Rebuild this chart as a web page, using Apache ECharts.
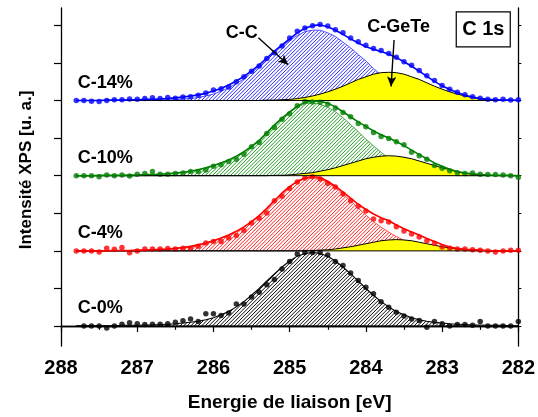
<!DOCTYPE html>
<html>
<head><meta charset="utf-8"></head>
<script type="text/javascript" src="https://cdn.jsdelivr.net/npm/echarts@6/dist/echarts.min.js"></script>
<body style="margin:0;background:#fff">
    <div id="main" style="width:538px;height:417px"></div>
</body>
<script type="text/javascript">
// energie de liaison (eV), pas de 0.1
var energie = [287.8,287.7,287.6,287.5,287.4,287.3,287.2,287.1,287.0,286.9,
    286.8,286.7,286.6,286.5,286.4,286.3,286.2,286.1,286.0,285.9,
    285.8,285.7,285.6,285.5,285.4,285.3,285.2,285.1,285.0,284.9,
    284.8,284.7,284.6,284.5,284.4,284.3,284.2,284.1,284.0,283.9,
    283.8,283.7,283.6,283.5,283.4,283.3,283.2,283.1,283.0,282.9,
    282.8,282.7,282.6,282.5,282.4,282.3,282.2,282.1,282.0]

// C-14%
var points14 = [0,0,-0.02,-0.03,0,0.02,0.02,0.04,0.03,0.05,
    0.07,0.05,0.08,0.06,0.09,0.10,0.14,0.20,0.28,0.31,
    0.36,0.50,0.63,0.78,0.92,1.12,1.27,1.45,1.66,1.84,
    1.93,1.99,2.02,1.98,1.88,1.80,1.66,1.56,1.47,1.38,
    1.33,1.25,1.15,1.03,0.94,0.80,0.66,0.53,0.40,0.30,
    0.22,0.15,0.10,0.06,0.03,0.02,0.03,0.01,0.02]
var fit14 = [0,0,0,0,0.01,0.01,0.01,0.02,0.02,0.03,
    0.03,0.04,0.05,0.07,0.09,0.12,0.15,0.19,0.25,0.32,
    0.41,0.52,0.64,0.79,0.95,1.13,1.31,1.48,1.64,1.80,
    1.92,1.99,2.01,1.96,1.87,1.76,1.64,1.53,1.43,1.36,
    1.30,1.23,1.14,1.03,0.91,0.78,0.64,0.51,0.39,0.29,
    0.21,0.14,0.09,0.05,0.03,0.02,0.01,0.01,0]
var cc14 = [0,0,0,0,0,0,0,0,0,0,
    0,0.01,0.01,0.02,0.04,0.05,0.08,0.12,0.17,0.25,
    0.34,0.45,0.58,0.74,0.90,1.08,1.27,1.45,1.60,1.73,
    1.83,1.87,1.87,1.80,1.70,1.55,1.40,1.22,1.05,0.85,
    0.68,0.52,0.38,0.27,0.18,0.11,0.07,0.04,0.02,0.01,
    0,0,0,0,0,0,0,0,0]
var ge14 = [0,0,0,0,0,0,0,0,0,0,
    0,0,0,0,0,0,0,0,0,0,
    0,0,0,0,0,0.01,0.01,0.02,0.03,0.05,
    0.08,0.12,0.17,0.23,0.30,0.38,0.47,0.56,0.63,0.70,
    0.74,0.75,0.74,0.70,0.63,0.56,0.47,0.38,0.30,0.23,
    0.17,0.12,0.08,0.05,0.03,0.02,0.01,0.01,0]

// C-10%
var points10 = [0,0,0,-0.03,0.02,0,0.02,-0.01,0.04,0.06,
    0.11,0.04,0.04,0.06,0.07,0.11,0.11,0.15,0.25,0.29,
    0.38,0.44,0.57,0.77,0.88,1.12,1.28,1.50,1.65,1.86,
    1.97,1.96,1.95,1.90,1.80,1.68,1.57,1.39,1.30,1.15,
    1.04,0.99,0.90,0.82,0.62,0.53,0.44,0.27,0.20,0.13,
    0.08,0.06,0.07,0.04,0.03,0.03,0.02,0,-0.04]
var fit10 = [0,0,0,0.01,0.01,0.01,0.01,0.02,0.02,0.03,
    0.03,0.04,0.05,0.07,0.09,0.12,0.16,0.21,0.27,0.34,
    0.42,0.52,0.64,0.78,0.94,1.14,1.35,1.53,1.70,1.85,
    1.95,1.99,1.98,1.93,1.83,1.70,1.56,1.43,1.31,1.19,
    1.09,1.00,0.91,0.80,0.68,0.56,0.45,0.34,0.25,0.17,
    0.11,0.07,0.05,0.03,0.02,0.01,0.01,0.01,0]
var cc10 = [0,0,0,0,0,0,0,0,0,0.01,
    0.02,0.03,0.04,0.06,0.09,0.12,0.16,0.20,0.26,0.33,
    0.41,0.51,0.62,0.76,0.92,1.12,1.33,1.51,1.68,1.82,
    1.91,1.94,1.90,1.82,1.70,1.54,1.36,1.17,0.97,0.79,
    0.62,0.47,0.35,0.25,0.17,0.11,0.07,0.04,0.02,0.01,
    0,0,0,0,0,0,0,0,0]
var ge10 = [0,0,0,0,0,0,0,0,0,0,
    0,0,0,0,0,0,0,0,0,0,
    0,0,0,0,0,0,0.01,0.01,0.02,0.04,
    0.06,0.08,0.12,0.16,0.21,0.27,0.33,0.39,0.45,0.49,
    0.52,0.53,0.52,0.49,0.45,0.39,0.33,0.27,0.21,0.16,
    0.10,0.06,0.04,0.02,0.01,0,0,0,0]

// C-4%
var points4 = [0,0,0,-0.03,0.07,0.04,0.09,-0.05,0,0.05,
    0.05,0.05,0.06,0.05,0.07,0.06,0.12,0.21,0.25,0.25,
    0.34,0.41,0.54,0.74,0.87,1.01,1.33,1.45,1.66,1.83,
    1.94,1.97,1.91,1.80,1.70,1.51,1.33,1.19,1.06,0.85,
    0.80,0.77,0.64,0.53,0.45,0.37,0.27,0.20,0.10,0.07,
    0.05,0.05,0.03,0.02,0,-0.03,0,0.02,0.02]
var fit4 = [0,0,0,0,0,0.01,0.01,0.01,0.02,0.02,
    0.03,0.04,0.05,0.07,0.09,0.12,0.16,0.21,0.27,0.34,
    0.42,0.52,0.64,0.78,0.94,1.13,1.34,1.54,1.71,1.85,
    1.94,1.98,1.95,1.85,1.72,1.56,1.40,1.24,1.10,0.98,
    0.88,0.80,0.69,0.59,0.50,0.42,0.33,0.25,0.17,0.10,
    0.06,0.04,0.03,0.02,0.01,0,0,0,0]
var cc4 = [0,0,0,0,0,0,0,0,0,0.01,
    0.02,0.03,0.04,0.06,0.08,0.11,0.15,0.20,0.26,0.33,
    0.41,0.51,0.63,0.77,0.93,1.12,1.33,1.53,1.70,1.84,
    1.92,1.95,1.91,1.82,1.68,1.51,1.33,1.14,0.95,0.78,
    0.63,0.50,0.38,0.28,0.20,0.14,0.10,0.06,0.04,0.02,
    0.01,0.01,0,0,0,0,0,0,0]
var ge4 = [0,0,0,0,0,0,0,0,0,0,
    0,0,0,0,0,0,0,0,0,0,
    0,0,0,0,0,0,0,0,0,0,
    0,0.01,0.02,0.03,0.05,0.08,0.11,0.15,0.19,0.23,
    0.27,0.29,0.30,0.29,0.27,0.23,0.19,0.15,0.11,0.08,
    0.05,0.03,0.02,0.01,0,0,0,0,0]

// C-0%
var points0 = [null,0,0,0,-0.05,0,0.05,0.09,0.06,0.04,
    0.05,0.05,0.06,0.10,0.14,0.19,0.12,0.33,0.33,0.28,
    0.35,0.59,0.59,0.77,0.90,1.10,1.24,1.52,1.72,1.92,
    1.96,1.96,1.96,1.89,1.72,1.61,1.41,1.21,1.03,0.86,
    0.65,0.50,0.37,0.27,0.19,0.15,-0.03,0.12,0.06,0,
    0.04,0.04,0.02,0.12,0,0,0,0,0.12]
var cc0 = [0.01,0.01,0.01,0.01,0.01,0.01,0.02,0.02,0.02,0.03,
    0.03,0.04,0.05,0.06,0.08,0.10,0.13,0.17,0.22,0.30,
    0.39,0.51,0.65,0.82,1.00,1.20,1.39,1.57,1.73,1.86,
    1.93,1.96,1.93,1.86,1.73,1.57,1.39,1.20,1.00,0.82,
    0.65,0.51,0.39,0.30,0.22,0.17,0.13,0.10,0.08,0.06,
    0.05,0.04,0.03,0.03,0.02,0.02,0.02,0.01,0.01]

var yTicks = [0,1,2,3,4,5,6,7,8]

var spectres = [
    {nom:'C-14%', dec:6, coul:'#0000ff', hach:'#2a2aff', pts:points14, fit:fit14, cc:cc14, ge:ge14},
    {nom:'C-10%', dec:4, coul:'#008000', hach:'#1f9a1f', pts:points10, fit:fit10, cc:cc10, ge:ge10},
    {nom:'C-4%',  dec:2, coul:'#ff0000', hach:'#ff2020', pts:points4,  fit:fit4,  cc:cc4,  ge:ge4},
    {nom:'C-0%',  dec:0, coul:'#000000', hach:'#000000', pts:points0,  fit:null,  cc:cc0,  ge:null}
]

function paires(arr, dec){
    var out = []
    for(var i=0;i<energie.length;i++){
        if(arr[i] === null) continue
        out.push([energie[i], dec + arr[i]])
    }
    return out
}

// hachures "////" entre la ligne de base (yb) et la courbe, en pixels
function hachures(courbe, yb, coul){
    var traits = []
    var x0 = courbe[0][0], x1 = courbe[courbe.length-1][0]
    function haut(x){
        for(var i=1;i<courbe.length;i++){
            if(x <= courbe[i][0]){
                var a = courbe[i-1], b = courbe[i]
                var t = (x - a[0]) / (b[0] - a[0])
                return a[1] + t * (b[1] - a[1])
            }
        }
        return yb
    }
    function trait(a, b){
        traits.push({type:'line', shape:{x1:a[0], y1:a[1], x2:b[0], y2:b[1]},
            style:{stroke:coul, lineWidth:1}})
    }
    for(var d = x0 - 80; d < x1; d += 3.6){
        var debut = null, prec = null
        for(var x = Math.max(d, x0); x <= x1; x += 0.5){
            var y = yb - (x - d)
            var dedans = (y <= yb) && (y >= haut(x))
            if(dedans && debut === null) debut = [x, y]
            if(!dedans && debut !== null){ trait(debut, prec); debut = null }
            prec = [x, y]
            if(y < yb - 90) break
        }
        if(debut !== null) trait(debut, prec)
    }
    return traits
}

// composante de fit remplie entre la ligne de base et la courbe
function composante(arr, dec, mode, coul, hach, epais){
    return {
        type:'custom', silent:true, coordinateSystem:'cartesian2d',
        data:[[energie[0], dec]],
        renderItem:function(params, api){
            var courbe = []
            for(var i=0;i<energie.length;i++) courbe.push(api.coord([energie[i], dec + arr[i]]))
            var yb = api.coord([energie[0], dec])[1]
            var enfants = []
            if(mode === 'jaune'){
                var poly = courbe.concat([[courbe[courbe.length-1][0], yb], [courbe[0][0], yb]])
                enfants.push({type:'polygon', shape:{points:poly}, style:{fill:'#ffff00', stroke:null}})
                enfants.push({type:'polyline', shape:{points:courbe}, style:{fill:null, stroke:'#000', lineWidth:epais}})
            } else {
                enfants = hachures(courbe, yb, hach)
                enfants.push({type:'polyline', shape:{points:courbe}, style:{fill:null, stroke:coul, lineWidth:epais}})
            }
            return {type:'group', children:enfants}
        }
    }
}

var series = []
spectres.forEach(function(s, k){
    // ligne de base
    series.push({type:'line', silent:true, symbol:'none', data:[[287.8, s.dec],[282, s.dec]],
        lineStyle:{color:'#000', width:1}})
    // composante C-C (hachuree)
    series.push(composante(s.cc, s.dec, 'hachure', s.coul, s.hach, s.ge ? 0.7 : 1.1))
    // composante C-GeTe (jaune)
    if(s.ge) series.push(composante(s.ge, s.dec, 'jaune', '#000', null, 1))
    // enveloppe
    if(s.fit){
        series.push({type:'line', silent:true, symbol:'none', data:paires(s.fit, s.dec),
            lineStyle:{color:s.coul, width:1.6}})
    }
    // points experimentaux
    var pts = {type:'scatter', silent:true, symbol:'circle', symbolSize:5.5,
        data:paires(s.pts, s.dec), itemStyle:{color:s.coul}}
    if(k === 0){
        pts.markLine = {silent:true, symbol:['none','arrow'], symbolSize:[7,10],
            lineStyle:{color:'#000', width:1.4, type:'solid'}, label:{show:false},
            data:[
                [{coord:[285.41,7.67]},{coord:[285.02,6.95]}],
                [{coord:[283.63,7.61]},{coord:[283.67,6.37]}]
            ]}
    }
    series.push(pts)
})

var police = 'Liberation Sans, Arial, sans-serif'

var myChart = echarts.init(document.getElementById('main'))
myChart.setOption({
    animation:false,
    grid:{left:61, right:17, top:8, bottom:70},
    xAxis:[{
        type:'value', inverse:true, min:282, max:288, interval:1,
        position:'bottom',
        name:'Energie de liaison [eV]', nameLocation:'middle', nameGap:47,
        nameTextStyle:{fontFamily:police, fontWeight:'bold', fontSize:19, color:'#000'},
        axisLine:{lineStyle:{color:'#000', width:1.3}},
        axisTick:{length:6, lineStyle:{color:'#000', width:1.2}},
        minorTick:{show:true, splitNumber:2, length:3.5, lineStyle:{color:'#000', width:1.2}},
        axisLabel:{fontFamily:police, fontWeight:'bold', fontSize:20, color:'#000', margin:12},
        splitLine:{show:false}
    },{
        type:'value', inverse:true, min:282, max:288, interval:0.5,
        position:'top',
        axisLine:{lineStyle:{color:'#000', width:1.3}},
        axisTick:{inside:true, length:3.5, lineStyle:{color:'#000', width:1}},
        axisLabel:{show:false},
        splitLine:{show:false}
    }],
    yAxis:[{
        type:'value', min:-0.53, max:8.46, position:'left',
        name:'Intensité XPS [u. a.]', nameLocation:'middle', nameGap:26, nameRotate:90,
        nameTextStyle:{fontFamily:police, fontWeight:'bold', fontSize:17, color:'#000', padding:[0,0,0,14]},
        axisLine:{lineStyle:{color:'#000', width:1.3}},
        axisTick:{length:7, customValues:yTicks, lineStyle:{color:'#000', width:1.2}},
        axisLabel:{show:false, customValues:yTicks},
        splitLine:{show:false}
    },{
        type:'value', min:-0.53, max:8.46, position:'right',
        axisLine:{lineStyle:{color:'#000', width:1.3}},
        axisTick:{length:3, customValues:yTicks, lineStyle:{color:'#000', width:1}},
        axisLabel:{show:false, customValues:yTicks},
        splitLine:{show:false}
    }],
    series:series
})

// etiquettes placees en coordonnees des donnees
function px(e, v){ return myChart.convertToPixel({xAxisIndex:0, yAxisIndex:0}, [e, v]) }
var txt = {fontFamily:police, fontWeight:'bold', fill:'#000'}
var graphic = []
spectres.forEach(function(s){
    var p = px(287.78, s.dec + 0.47)
    graphic.push({type:'text', x:p[0], y:p[1],
        style:Object.assign({text:s.nom, fontSize:18, align:'left', verticalAlign:'middle'}, txt)})
})
var pc = px(285.63, 7.80)
graphic.push({type:'text', x:pc[0], y:pc[1],
    style:Object.assign({text:'C-C', fontSize:18, align:'center', verticalAlign:'middle'}, txt)})
var pg = px(283.57, 7.96)
graphic.push({type:'text', x:pg[0], y:pg[1],
    style:Object.assign({text:'C-GeTe', fontSize:18, align:'center', verticalAlign:'middle'}, txt)})
var pb = px(282.46, 7.89)
graphic.push({type:'rect', shape:{x:pb[0]-27, y:pb[1]-17.5, width:54, height:35},
    style:{fill:'#fff', stroke:'#000', lineWidth:1.2}, z:10})
graphic.push({type:'text', x:pb[0], y:pb[1], z:11,
    style:Object.assign({text:'C 1s', fontSize:20, align:'center', verticalAlign:'middle'}, txt)})
myChart.setOption({graphic:graphic})
</script>
</html>
